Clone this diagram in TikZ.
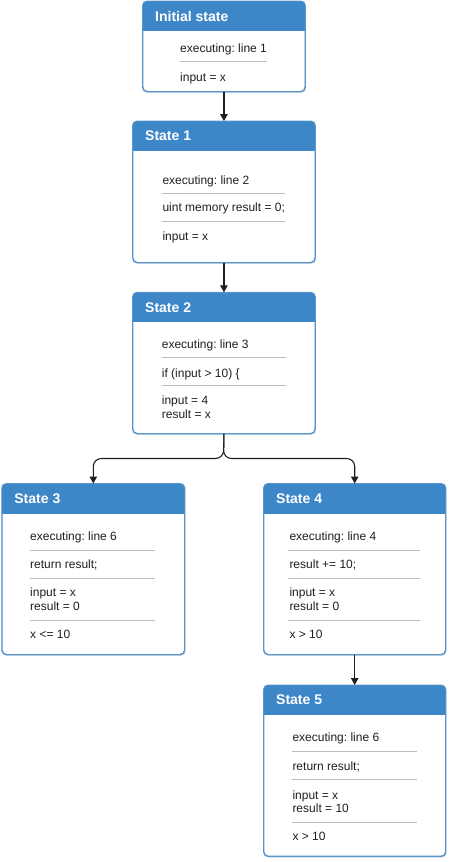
\documentclass[tikz,border=0pt]{standalone}
\usepackage{fontspec}
\setmainfont{Liberation Sans}
\frenchspacing
\usetikzlibrary{arrows.meta,shadows}
\definecolor{hdrblue}{HTML}{3D87C9}
\definecolor{bordblue}{HTML}{5A95CC}
\definecolor{sepgray}{HTML}{BDBDBD}
\tikzset{
 stbox/.style={draw=bordblue, line width=0.9pt, fill=white, rounded corners=4.5pt, inner sep=0pt, anchor=north west, drop shadow={opacity=0.22, shadow xshift=1pt, shadow yshift=-1.5pt}},
 sttitle/.style={font=\fontsize{14}{16}\selectfont\bfseries, text=white, anchor=west, inner sep=0pt},
 sttext/.style={font=\fontsize{12}{14}\selectfont, text=black!88, anchor=base west, inner sep=0pt},
 stsep/.style={draw=sepgray, line width=0.9pt},
 flow/.style={draw=black!88, line width=1.1pt, -{Triangle[length=7pt,width=7.5pt]}}
}
\newcommand\stateframe[6]{%
 \node[stbox, minimum width={(#4-#2)*1pt}, minimum height={(#5-#3)*1pt}] (#1) at (#2,#3) {};
 \begin{scope}
  \clip[rounded corners=4.5pt] (#1.north west) rectangle (#1.south east);
  \fill[hdrblue] (#1.north west) rectangle ([yshift=-30pt]#1.north east);
 \end{scope}
 \draw[draw=bordblue, line width=0.9pt, rounded corners=4.5pt] (#1.north west) rectangle (#1.south east);
 \node[sttitle] (#1t) at ([xshift=12.5pt,yshift=-15pt]#1.north west) {#6};
}
\begin{document}
\begin{tikzpicture}[x=1pt,y=-1pt]
\useasboundingbox (0,0) rectangle (453,862);

% Initial state
\stateframe{s0}{142.5}{1}{304.5}{91}{Initial state}
\node[sttext] (s0a) at (180,52.5) {executing: line 1};
\draw[stsep] (180,61.7) -- (267,61.7);
\node[sttext] (s0b) at (180,81.5) {input = x};

% State 1
\stateframe{s1}{132.5}{121}{314.5}{262}{State 1}
\node[sttext] (s1a) at (162.3,184) {executing: line 2};
\draw[stsep] (161.7,193.3) -- (285,193.3);
\node[sttext] (s1b) at (162.3,211.5) {uint memory result = 0;};
\draw[stsep] (161.7,221.7) -- (285,221.7);
\node[sttext] (s1c) at (162.3,240.5) {input = x};

% State 2
\stateframe{s2}{132.5}{292.3}{314.5}{433}{State 2}
\node[sttext] (s2a) at (161.7,348) {executing: line 3};
\draw[stsep] (161.7,357.3) -- (286,357.3);
\node[sttext] (s2b) at (161.7,377) {if (input > 10) \{};
\draw[stsep] (161.7,385.7) -- (286,385.7);
\node[sttext] (s2c) at (161.7,404.5) {input = 4};
\node[sttext] (s2d) at (161.7,418) {result = x};

% State 3
\stateframe{s3}{1.7}{483.5}{184}{654}{State 3}
\node[sttext] (s3a) at (30,540.5) {executing: line 6};
\draw[stsep] (30,550.3) -- (155,550.3);
\node[sttext] (s3b) at (30,568.3) {return result;};
\draw[stsep] (30,578.3) -- (155,578.3);
\node[sttext] (s3c) at (30,596.7) {input = x};
\node[sttext] (s3d) at (30,610.5) {result = 0};
\draw[stsep] (30,620.3) -- (155,620.3);
\node[sttext] (s3e) at (30,638.3) {x <= 10};

% State 4
\stateframe{s4}{263.5}{483.5}{445}{654}{State 4}
\node[sttext] (s4a) at (289.3,540.5) {executing: line 4};
\draw[stsep] (288.3,550.3) -- (420,550.3);
\node[sttext] (s4b) at (289.3,568.3) {result += 10;};
\draw[stsep] (288.3,578.3) -- (420,578.3);
\node[sttext] (s4c) at (289.3,596.7) {input = x};
\node[sttext] (s4d) at (289.3,610.5) {result = 0};
\draw[stsep] (288.3,620.3) -- (420,620.3);
\node[sttext] (s4e) at (289.3,638.3) {x > 10};

% State 5
\stateframe{s5}{263.5}{685}{445}{855.7}{State 5}
\node[sttext] (s5a) at (292.3,741.7) {executing: line 6};
\draw[stsep] (291.7,751) -- (416.7,751);
\node[sttext] (s5b) at (292.3,770) {return result;};
\draw[stsep] (291.7,779.3) -- (416.7,779.3);
\node[sttext] (s5c) at (292.3,799) {input = x};
\node[sttext] (s5d) at (292.3,812.3) {result = 10};
\draw[stsep] (291.7,822.3) -- (416.7,822.3);
\node[sttext] (s5e) at (292.3,840) {x > 10};

% connectors
\coordinate (fork) at (223.5,458.5);
\draw[flow] (s0.south) -- (s1.north);
\draw[flow] (s1.south) -- (s2.north);
\draw[flow, rounded corners=8pt] (s2.south) -- (fork) -| (s3.north);
\draw[flow, rounded corners=8pt] (s2.south) -- (fork) -| (s4.north);
\draw[flow] (s4.south) -- (s5.north);
\end{tikzpicture}
\end{document}
